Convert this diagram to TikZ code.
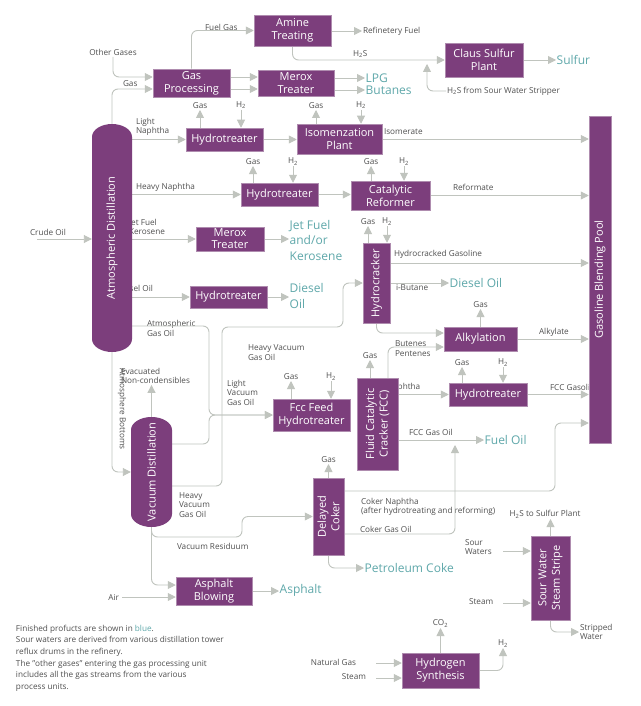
\documentclass[tikz,border=0pt]{standalone}
\usepackage{fontspec}
\setmainfont{Open Sans}
\usetikzlibrary{arrows.meta}
\pgfdeclarelayer{bg}
\pgfsetlayers{bg,main}
\definecolor{boxc}{RGB}{124,62,124}
\definecolor{boxe}{RGB}{175,140,175}
\definecolor{linec}{RGB}{192,196,190}
\definecolor{lblc}{RGB}{80,80,80}
\definecolor{prodc}{RGB}{95,168,170}
\begin{document}
\begin{tikzpicture}[x=1pt,y=-1pt,
 box/.style={fill=boxc, draw=boxe, line width=0.5pt, text=white, font=\fontsize{11}{13}\selectfont, align=center, inner sep=0pt},
 vtext/.style={rotate=90, text=white, font=\fontsize{11}{13.5}\selectfont, align=center, inner sep=0pt},
 lbl/.style={text=lblc, font=\fontsize{8.2}{9.5}\selectfont, inner sep=0.8pt, align=left},
 prod/.style={text=prodc, font=\fontsize{12}{15.5}\selectfont, inner sep=0.5pt, align=left},
 ln/.style={draw=linec, line width=0.9pt, rounded corners=6pt},
 arr/.style={ln, -{Triangle[length=8pt,width=8pt]}},
]
\useasboundingbox (0,0) rectangle (640,706);
% ---------- boxes ----------
\node[box, minimum width=77pt, minimum height=31pt] (amine) at (292.5,30.5) {Amine\\Treating};
\node[box, minimum width=77pt, minimum height=28pt] (gp) at (191.5,83) {Gas\\Processing};
\node[box, minimum width=76pt, minimum height=26pt] (merox1) at (296,83) {Merox\\Treater};
\node[box, minimum width=78pt, minimum height=34pt] (claus) at (484,60) {Claus Sulfur\\Plant};
\node[box, minimum width=77pt, minimum height=23pt] (ht1) at (224.5,139.5) {Hydrotreater};
\node[box, minimum width=85pt, minimum height=30pt] (iso) at (339.5,139) {Isomenzation\\Plant};
\node[box, minimum width=77pt, minimum height=23pt] (ht2) at (279.5,194.5) {Hydrotreater};
\node[box, minimum width=79pt, minimum height=29pt] (cr) at (390.5,195.5) {Catalytic\\Reformer};
\node[box, minimum width=68pt, minimum height=24pt, font=\fontsize{11}{12}\selectfont] (merox2) at (230,239) {Merox\\Treater};
\node[box, minimum width=77pt, minimum height=22pt] (ht3) at (228.5,297) {Hydrotreater};
\node[box, minimum width=27pt, minimum height=80pt, label={[vtext]center:Hydrocracker}] (hc) at (376.5,283) {};
\node[box, minimum width=73pt, minimum height=24pt] (alk) at (480.5,339) {Alkylation};
\node[box, minimum width=22pt, minimum height=327pt, label={[vtext]center:Gasoline Blending Pool}] (gbp) at (600,279.5) {};
\node[box, minimum width=77pt, minimum height=32pt] (ffh) at (311.5,415) {Fcc Feed\\Hydrotreater};
\node[box, minimum width=41pt, minimum height=92pt, label={[vtext]center:{Fluid Catalytic\\Cracker (FCC)}}] (fcc) at (377.5,424) {};
\node[box, minimum width=78pt, minimum height=23pt] (ht4) at (488,394.5) {Hydrotreater};
\node[box, minimum width=31pt, minimum height=77pt, label={[vtext]center:{Delayed\\Coker}}] (dc) at (328.5,516.5) {};
\node[box, minimum width=76pt, minimum height=28pt] (ab) at (214,591) {Asphalt\\Blowing};
\node[box, minimum width=39pt, minimum height=84pt, label={[vtext]center:{Sour Water\\Steam Stripe}}] (sws) at (550.5,578) {};
\node[box, minimum width=77pt, minimum height=35pt] (hs) at (440.5,670.5) {Hydrogen\\Synthesis};
% ---------- columns ----------
\node[inner sep=0pt, minimum width=40pt, minimum height=228pt] (ad) at (112,238) {};
\fill[boxc] (92,137) -- (92,339) .. controls (92,346.2) and (101,352) .. (112,352)
  .. controls (123,352) and (132,346.2) .. (132,339) -- (132,137)
  .. controls (132,129.8) and (123,124) .. (112,124) .. controls (101,124) and (92,129.8) .. (92,137) -- cycle;
\node[vtext] at (ad.center) {Atmospheric Distillation};
\node[inner sep=0pt, minimum width=41pt, minimum height=110pt] (vd) at (151.5,472) {};
\fill[boxc] (131,430) -- (131,514) .. controls (131,521.2) and (140.2,527) .. (151.5,527)
  .. controls (162.8,527) and (172,521.2) .. (172,514) -- (172,430)
  .. controls (172,422.8) and (162.8,417) .. (151.5,417) .. controls (140.2,417) and (131,422.8) .. (131,430) -- cycle;
\node[vtext] at (vd.center) {Vacuum Distillation};
% ---------- labels and connectors ----------
\begin{pgfonlayer}{bg}
\fill[white] (0,0) rectangle (640,706);
% labels
\node[lbl, anchor=west] (fuelgas) at (204,27) {Fuel Gas};
\node[lbl, anchor=west] (rf) at (362,31) {Refinetery Fuel};
\node[lbl, anchor=west] (h2s) at (352,54) {H\textsubscript{2}S};
\node[lbl, anchor=west] (h2ssws) at (446,91) {H\textsubscript{2}S from Sour Water Stripper};
\node[lbl, anchor=south] (og) at (113,57) {Other Gases};
\node[lbl, anchor=west] (gas0) at (122,84) {Gas};
\node[lbl, anchor=west] (lnaph) at (135,127) {Light\\Naphtha};
\node[lbl, anchor=west] (isomerate) at (383,132) {Isomerate};
\node[lbl, anchor=west] (hnaph) at (135,187) {Heavy Naphtha};
\node[lbl, anchor=west] (reformate) at (452,187) {Reformate};
\node[lbl, anchor=west] (jetlbl) at (128,227) {Jet Fuel\\Kerosene};
\node[lbl, anchor=west] (diesellbl) at (116,288) {Diesel Oil};
\node[lbl, anchor=west] (ago) at (146,328.5) {Atmospheric\\Gas Oil};
\node[lbl, anchor=west] (hvgo1) at (247,352.5) {Heavy Vacuum\\Gas Oil};
\node[lbl, anchor=west] (lvgo) at (226,392.5) {Light\\Vacuum\\Gas Oil};
\node[lbl, anchor=west] (evac) at (120,376) {Evacuated\\Non-condensibles};
\node[lbl, rotate=-90] (atmb) at (122,409) {Atmosphere Bottoms};
\node[lbl, anchor=west] (hvgo2) at (178,505) {Heavy\\Vacuum\\Gas Oil};
\node[lbl, anchor=west] (vr) at (176,546) {Vacuum Residuum};
\node[lbl, anchor=east] (air) at (120,597) {Air};
\node[lbl, anchor=west] (hcg) at (393,254) {Hydrocracked Gasoline};
\node[lbl, anchor=west] (ibut) at (395,288) {i-Butane};
\node[lbl, anchor=west] (butpen) at (394,348.5) {Butenes\\Pentenes};
\node[lbl, anchor=west] (alkylate) at (538,332) {Alkylate};
\node[lbl, anchor=west] (naphtha) at (386,387) {Naphtha};
\node[lbl, anchor=west] (fccgas) at (549,387) {FCC Gasoline};
\node[lbl, anchor=west] (fccgo) at (408,432) {FCC Gas Oil};
\node[lbl, anchor=west] (cn) at (360,507) {Coker Naphtha\\(after hydrotreating and reforming)};
\node[lbl, anchor=west] (cgo) at (359,529) {Coker Gas Oil};
\node[lbl, anchor=west] (sw) at (464,547) {Sour\\Waters};
\node[lbl, anchor=west] (steam1) at (468,602) {Steam};
\node[lbl, anchor=south] (h2ssp) at (545,519) {H\textsubscript{2}S to Sulfur Plant};
\node[lbl, anchor=west] (strip) at (579,632) {Stripped\\Water};
\node[lbl, anchor=south] (co2) at (440.5,628) {CO\textsubscript{2}};
\node[lbl, anchor=south] (h2out) at (503,648) {H\textsubscript{2}};
\node[lbl, anchor=east] (ng) at (357,662) {Natural Gas};
\node[lbl, anchor=east] (steam2) at (367,677) {Steam};
\node[lbl, anchor=west] (crude) at (29,232) {Crude Oil};
\node[lbl, anchor=north west, font=\fontsize{8.2}{11.6}\selectfont] (notes) at (15,624) {Finished profucts are shown in \textcolor{prodc}{blue}.\\Sour waters are derived from various distillation tower\\reflux drums in the refinery.\\The "other gases" entering the gas processing unit\\includes all the gas streams from the various\\process units.};
% gas / H2 labels
\node[lbl, anchor=south] (g1) at (200,110) {Gas};
\node[lbl, anchor=south] (h1) at (241,110) {H\textsubscript{2}};
\node[lbl, anchor=south] (g2) at (316,110) {Gas};
\node[lbl, anchor=south] (h2) at (361,110) {H\textsubscript{2}};
\node[lbl, anchor=south] (g3) at (253,166) {Gas};
\node[lbl, anchor=south] (h3) at (293,166) {H\textsubscript{2}};
\node[lbl, anchor=south] (g4) at (371,166) {Gas};
\node[lbl, anchor=south] (h4) at (404,166) {H\textsubscript{2}};
\node[lbl, anchor=south] (g5) at (368,226) {Gas};
\node[lbl, anchor=south] (h5) at (387,226) {H\textsubscript{2}};
\node[lbl, anchor=south] (g6) at (480.5,309) {Gas};
\node[lbl, anchor=south] (g7) at (291,381) {Gas};
\node[lbl, anchor=south] (h7) at (331,381) {H\textsubscript{2}};
\node[lbl, anchor=south] (g8) at (370,360) {Gas};
\node[lbl, anchor=south] (g9) at (462,367) {Gas};
\node[lbl, anchor=south] (h9) at (503,367) {H\textsubscript{2}};
\node[lbl, anchor=south] (g10) at (328.5,464) {Gas};
% products
\node[prod, anchor=west] (sulfur) at (556,60) {Sulfur};
\node[prod, anchor=west] (lpg) at (365,78) {LPG};
\node[prod, anchor=west] (butanes) at (365,90) {Butanes};
\node[prod, anchor=west] (jet) at (289,240) {Jet Fuel\\and/or\\Kerosene};
\node[prod, anchor=west] (diesel1) at (289,296) {Diesel\\Oil};
\node[prod, anchor=west] (diesel2) at (449,283) {Diesel Oil};
\node[prod, anchor=west] (fueloil) at (484,440) {Fuel Oil};
\node[prod, anchor=west] (pcoke) at (364,568) {Petroleum Coke};
\node[prod, anchor=west] (asph) at (279,590) {Asphalt};
% free ends
\coordinate (h2stip) at (427,64);
\coordinate (crin) at (37,239);
\coordinate (cgotip) at (455,445);
\coordinate (swin) at (503,551);
\coordinate (stin) at (503,603);
\coordinate (ngin) at (376,663);
\coordinate (st2in) at (376,678);
\coordinate (airin) at (122,597);
% connectors
\draw[arr] (gp.north) |- (amine.west);
\draw[arr] (amine.east |- rf.west) -- (rf.west);
\draw[arr] (amine.south) |- (claus.west);
\draw[arr] (h2ssws.west) -| (h2stip);
\draw[arr] (claus.east) -- (sulfur.west);
\draw[arr] (og.south) |- ([yshift=6pt]gp.west);
\draw[arr] (ad.north) |- ([yshift=-6pt]gp.west);
\draw[arr] ([yshift=6pt]gp.east) -- ([yshift=6pt]merox1.west);
\draw[arr] ([yshift=-6pt]gp.east) -- ([yshift=-6pt]merox1.west);
\draw[arr] (merox1.east |- lpg.west) -- (lpg.west);
\draw[arr] (merox1.east |- butanes.west) -- (butanes.west);
% gas/h2
\draw[arr] (ht1.north -| g1.south) -- (g1.south);
\draw[arr] (h1.south) -- (h1.south |- ht1.north);
\draw[arr] (iso.north -| g2.south) -- (g2.south);
\draw[arr] (h2.south) -- (h2.south |- iso.north);
\draw[arr] (ht2.north -| g3.south) -- (g3.south);
\draw[arr] (h3.south) -- (h3.south |- ht2.north);
\draw[arr] (cr.north -| g4.south) -- (g4.south);
\draw[arr] (h4.south) -- (h4.south |- cr.north);
\draw[arr] (hc.north -| g5.south) -- (g5.south);
\draw[arr] (h5.south) -- (h5.south |- hc.north);
\draw[arr] (alk.north -| g6.south) -- (g6.south);
\draw[arr] (ffh.north -| g7.south) -- (g7.south);
\draw[arr] (h7.south) -- (h7.south |- ffh.north);
\draw[arr] (fcc.north -| g8.south) -- (g8.south);
\draw[arr] (ht4.north -| g9.south) -- (g9.south);
\draw[arr] (h9.south) -- (h9.south |- ht4.north);
\draw[arr] (dc.north -| g10.south) -- (g10.south);
% main streams
\draw[arr] (crin) -- (ad.west |- crin);
\draw[arr] (ad.east |- ht1.west) -- (ht1.west);
\draw[arr] (ht1.east) -- (ht1.east -| iso.west);
\draw[arr] (iso.east) -- (iso.east -| gbp.west);
\draw[arr] (ad.east |- ht2.west) -- (ht2.west);
\draw[arr] (ht2.east) -- (ht2.east -| cr.west);
\draw[arr] (cr.east) -- (cr.east -| gbp.west);
\draw[arr] (ad.east |- merox2.west) -- (merox2.west);
\draw[arr] (merox2.east) -- (merox2.east -| jet.west);
\draw[arr] (ad.east |- ht3.west) -- (ht3.west);
\draw[arr] (ht3.east) -- (ht3.east -| diesel1.west);
\draw[arr] (ad.east |- 0,326) -| (ffh.west -| 209,0) -- (ffh.west);
\draw[arr] (vd.east |- 0,444) -| (ffh.west -| 209,0) -- (ffh.west);
\draw[arr] (vd.east |- 0,486) -| (222,327) -| (hc.west -| 343,0) -- (hc.west);
\draw[arr] (vd.north) -- (vd.north |- evac.south);
\draw[arr] (ad.south) |- (vd.west);
\draw[arr] (vd.south) |- (242,537) |- (dc.west);
\draw[arr] (vd.south) |- ([yshift=6pt]ab.west);
\draw[arr] (airin) -- (airin -| ab.west);
\draw[arr] (ab.east) -- (ab.east -| asph.west);
\draw[arr] (dc.east |- 0,491) -| (555,423) -- (gbp.west |- 0,423);
\draw[arr] (dc.east |- 0,534) -| (cgotip);
\draw[arr] (dc.south) |- (pcoke.west);
\draw[arr] (fcc.north -| 388,0) |- ([yshift=-8pt]alk.west);
\draw[arr] (hc.south) |- ([yshift=6pt]alk.west);
\draw[arr] (fcc.east |- ht4.west) -- (ht4.west);
\draw[arr] (ht4.east) -- (ht4.east -| gbp.west);
\draw[arr] (fcc.east |- fueloil.west) -- (fueloil.west);
\draw[arr] (hc.east |- 0,263) -- (gbp.west |- 0,263);
\draw[arr] (hc.east |- diesel2.west) -- (diesel2.west);
\draw[arr] (alk.east) -- (alk.east -| gbp.west);
\draw[arr] (swin) -- (swin -| sws.west);
\draw[arr] (stin) -- (stin -| sws.west);
\draw[arr] (sws.north) -- (sws.north |- h2ssp.south);
\draw[arr] (sws.south) |- (strip.west);
\draw[arr] (hs.north) -- (hs.north |- co2.south);
\draw[arr] (hs.east) -| (h2out.south);
\draw[arr] (ngin) -- (ngin -| hs.west);
\draw[arr] (st2in) -- (st2in -| hs.west);
\end{pgfonlayer}
\end{tikzpicture}
\end{document}
